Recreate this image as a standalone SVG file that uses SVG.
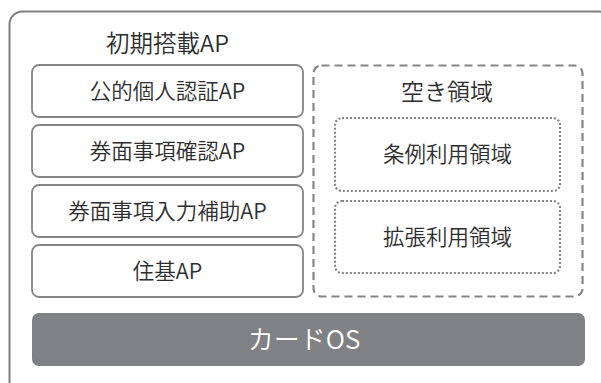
<svg xmlns="http://www.w3.org/2000/svg" width="601" height="383" viewBox="0 0 601 383">
<style>
text{font-family:"Noto Sans CJK JP","Liberation Sans",sans-serif;font-weight:350;fill:#2e2e2e;text-anchor:middle}
.ap{fill:#fff;stroke:#858585;stroke-width:1.8}
.lbl{font-size:21.5px}
.free{fill:none;stroke:#858585;stroke-width:2.2;stroke-dasharray:8 5}
.sub{fill:none;stroke:#858585;stroke-width:2.2;stroke-dasharray:2 2}
</style>
<rect width="601" height="383" fill="#fff"/>
<g id="outer">
<rect x="9.5" y="11.5" width="602" height="385" rx="13" fill="none" stroke="#7f7f7f" stroke-width="2"/>
<text x="167.5" y="52" style="font-size:23.5px">初期搭載AP</text>
</g>
<g id="ap1"><rect class="ap" x="32" y="65" width="271" height="52" rx="7"/><text class="lbl" x="167.5" y="99">公的個人認証AP</text></g>
<g id="ap2"><rect class="ap" x="32" y="125" width="271" height="52" rx="7"/><text class="lbl" x="167.5" y="159">券面事項確認AP</text></g>
<g id="ap3"><rect class="ap" x="32" y="185" width="271" height="52" rx="7"/><text class="lbl" x="167.5" y="219">券面事項入力補助AP</text></g>
<g id="ap4"><rect class="ap" x="32" y="245" width="271" height="52" rx="7"/><text class="lbl" x="167.5" y="279">住基AP</text></g>
<g id="free">
<rect class="free" x="313.5" y="65.5" width="269" height="231" rx="8"/>
<text x="447" y="100" style="font-size:23px">空き領域</text>
</g>
<g id="jorei"><rect class="sub" x="335" y="118" width="225" height="73" rx="7"/><text class="lbl" x="447.5" y="162">条例利用領域</text></g>
<g id="kakucho"><rect class="sub" x="335" y="201" width="225" height="72" rx="7"/><text class="lbl" x="447.5" y="245">拡張利用領域</text></g>
<g id="cardos"><rect x="32" y="313" width="553" height="53" rx="7" fill="#808184"/><text x="304" y="349" style="font-size:26px;fill:#fff">カードOS</text></g>
<g id="connectors"/>
</svg>
